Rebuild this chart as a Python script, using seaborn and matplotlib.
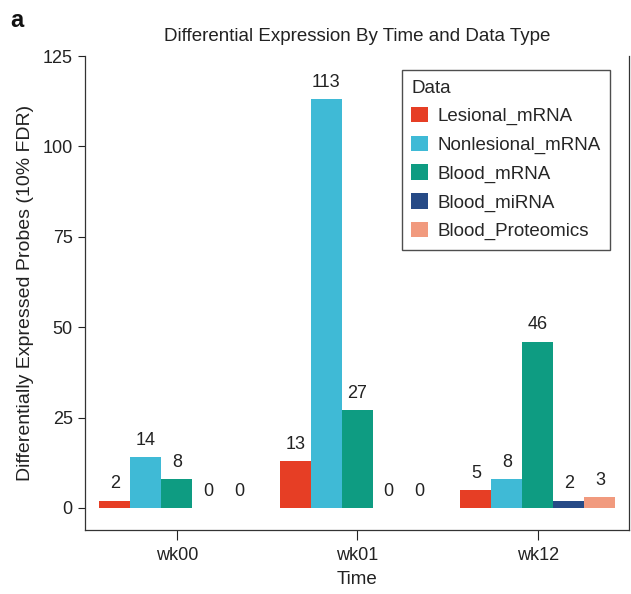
import seaborn as sns
import matplotlib.pyplot as plt
import pandas as pd

# valores
times = ["wk00", "wk01", "wk12"]
data_types = ["Lesional_mRNA", "Nonlesional_mRNA", "Blood_mRNA", "Blood_miRNA", "Blood_Proteomics"]
lesional = [2, 13, 5]
nonlesional = [14, 113, 8]
blood_mrna = [8, 27, 46]
blood_mirna = [0, 0, 2]
blood_prot = [0, 0, 3]

colores = ["#E63E25", "#3FBAD6", "#0E9C82", "#264A86", "#F19A7E"]

series = [lesional, nonlesional, blood_mrna, blood_mirna, blood_prot]
df = pd.DataFrame([
    {"Time": t, "Data": d, "n": vals[i]}
    for d, vals in zip(data_types, series)
    for i, t in enumerate(times)
])

sns.set_style("ticks")
plt.rcParams["font.family"] = ["Liberation Sans", "DejaVu Sans"]

fig = plt.figure(figsize=(6.31, 5.94), dpi=100)
ax = fig.add_axes([0.1342, 0.1077, 0.8631, 0.798])

sns.barplot(data=df, x="Time", y="n", hue="Data", order=times, hue_order=data_types,
            palette=colores, width=0.859, saturation=1, ax=ax, linewidth=0)

for cont in ax.containers:
    ax.bar_label(cont, padding=6, fontsize=13, color="#222222")

ax.set_ylim(-6.1, 125)
ax.set_xlim(-0.511, 2.506)
ax.set_yticks([0, 25, 50, 75, 100, 125])
ax.tick_params(axis="both", labelsize=13, colors="#222222", length=5, width=0.8)
ax.tick_params(axis="x", length=7, pad=5)
ax.set_xlabel("Time", fontsize=13.5, color="#222222", labelpad=5)
ax.set_ylabel("Differentially Expressed Probes (10% FDR)", fontsize=14, color="#222222", labelpad=6)
ax.set_title("Differential Expression By Time and Data Type", fontsize=13.5, color="#222222", pad=11)

for s in ["left", "bottom", "right"]:
    ax.spines[s].set_color("#333333")
    ax.spines[s].set_linewidth(0.9)
ax.spines["top"].set_visible(False)

leg = ax.legend(title="Data", loc="upper right", bbox_to_anchor=(0.9646, 0.970),
                borderaxespad=0,
                fontsize=13.5, title_fontsize=13.5, frameon=True, fancybox=False,
                edgecolor="#222222", handlelength=0.9, handleheight=0.9,
                handletextpad=0.5, labelspacing=0.55, borderpad=0.5)
leg._legend_box.align = "left"
leg.get_frame().set_linewidth(1.0)

fig.text(0.016, 0.955, "a", fontsize=17, fontweight="bold", color="#111111")

plt.savefig("out.png", dpi=100)
